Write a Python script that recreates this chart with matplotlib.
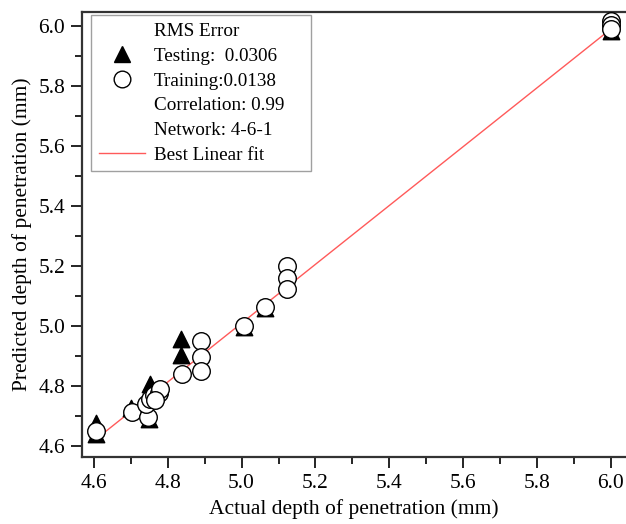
import numpy as np
import matplotlib.pyplot as plt
from matplotlib.lines import Line2D
from matplotlib.ticker import MultipleLocator

plt.rcParams.update({"font.family": "Liberation Serif", "font.size": 15})

# Testing samples (actual, predicted), mm
test_actual = [4.605, 4.605, 4.700, 4.752, 4.748, 4.836, 4.836, 5.007, 5.063, 6.000, 6.000]
test_pred = [4.675, 4.640, 4.725, 4.805, 4.690, 4.956, 4.903, 4.995, 5.060, 6.022, 5.985]

# Training samples (actual, predicted), mm
train_actual = [4.605, 4.702, 4.745, 4.740, 4.752, 4.762, 4.775, 4.780, 4.765,
                4.838, 4.889, 4.889, 4.889, 5.007, 5.063, 5.122, 5.122, 5.122,
                6.000, 6.000, 6.000]
train_pred = [4.648, 4.714, 4.695, 4.740, 4.757, 4.770, 4.775, 4.790, 4.752,
              4.840, 4.950, 4.896, 4.848, 5.000, 5.062, 5.200, 5.159, 5.122,
              6.018, 6.005, 5.990]

# Best linear fit end points
fit_x = [4.60, 6.00]
fit_y = [4.617, 5.990]

fig = plt.figure(figsize=(6.26, 5.24), dpi=100)
ax = fig.add_axes([0.131, 0.128, 0.869, 0.849])

ax.plot(fit_x, fit_y, color="#ff5a5a", lw=1.0, zorder=1)
ax.scatter(test_actual, test_pred, marker="^", s=140, color="black", zorder=2)
ax.scatter(train_actual, train_pred, marker="o", s=160, facecolor="white",
           edgecolor="black", linewidth=1.0, zorder=3)

ax.set_xlim(4.5675, 6.0415)
ax.set_ylim(4.563, 6.047)
ax.xaxis.set_major_locator(MultipleLocator(0.2))
ax.xaxis.set_minor_locator(MultipleLocator(0.1))
ax.yaxis.set_major_locator(MultipleLocator(0.2))
ax.yaxis.set_minor_locator(MultipleLocator(0.1))
ax.xaxis.set_major_formatter(lambda v, p: f"{v:.1f}")
ax.yaxis.set_major_formatter(lambda v, p: f"{v:.1f}")
ax.tick_params(which="major", direction="out", length=8, width=1.2, labelsize=15.5, pad=4)
ax.tick_params(which="minor", direction="out", length=5, width=1.2)
ax.spines["right"].set_visible(False)
for sp in ["left", "bottom", "top"]:
    ax.spines[sp].set_linewidth(1.6)
    ax.spines[sp].set_color("#333333")

ax.set_xlabel("Actual depth of penetration (mm)", fontsize=15.5, labelpad=5)
ax.set_ylabel("Predicted depth of penetration (mm)", fontsize=15.5, labelpad=5)

blank = Line2D([], [], linestyle="none")
handles = [
    blank,
    Line2D([], [], marker="^", color="black", linestyle="none", markersize=12),
    Line2D([], [], marker="o", markerfacecolor="white", markeredgecolor="black",
           linestyle="none", markersize=12),
    blank,
    blank,
    Line2D([], [], color="#ff5a5a", lw=1.0),
]
labels = ["RMS Error", "Testing:  0.0306", "Training:0.0138",
          "Correlation: 0.99    ", "Network: 4-6-1", "Best Linear fit"]
leg = ax.legend(handles, labels, loc="upper left", bbox_to_anchor=(0.017, 0.993),
                fontsize=13.8, frameon=True, fancybox=False, edgecolor="#888888",
                handlelength=2.4, handletextpad=0.45, labelspacing=0.38,
                borderpad=0.4, borderaxespad=0.0)
leg.get_frame().set_linewidth(1.0)

fig.savefig("out.png", dpi=100)
